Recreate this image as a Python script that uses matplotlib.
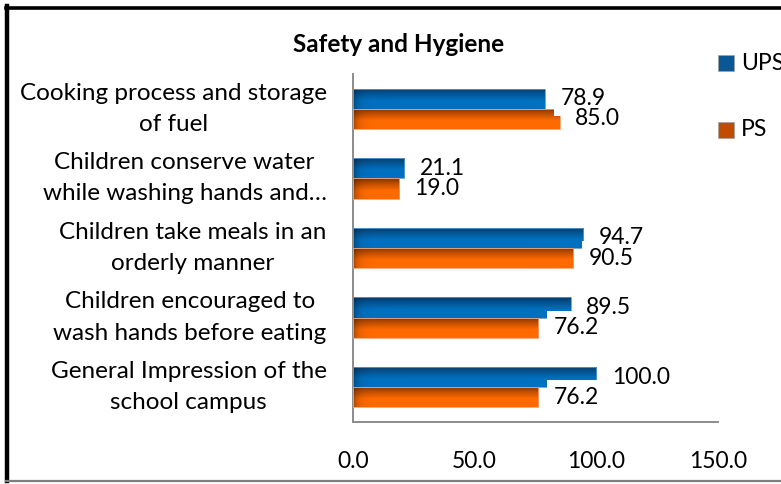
import numpy as np
import matplotlib
matplotlib.use('Agg')
import matplotlib.pyplot as plt
from matplotlib.patches import Rectangle
from matplotlib.lines import Line2D

plt.rcParams['font.family'] = ['Lato', 'DejaVu Sans']

categories = [
    'Cooking process and storage\nof fuel',
    'Children conserve water\nwhile washing hands and…',
    'Children take meals in an\norderly manner',
    'Children encouraged to\nwash hands before eating',
    'General Impression of the\nschool campus',
]
ups = [78.9, 21.1, 94.7, 89.5, 100.0]
ps = [85.0, 19.0, 90.5, 76.2, 76.2]
series_names = ['UPS', 'PS']
xticks = [0, 50, 100, 150]

W, H = 781, 484
fig = plt.figure(figsize=(W / 100, H / 100), dpi=100)
ax = fig.add_axes([353 / W, 1 - 422 / H, (718 - 353) / W, (422 - 74) / H])

bar_h = 0.29
y = np.arange(len(categories))


def shaded(dark, light, n=64):
    # vertical shade: dark along the top edge, lighter below, darker left end
    dark = np.array(matplotlib.colors.to_rgb(dark))
    light = np.array(matplotlib.colors.to_rgb(light))
    t = np.linspace(0, 1, n)
    tv = np.clip(t / 0.6, 0, 1) ** 0.8
    col = dark[None, :] * (1 - tv[:, None]) + light[None, :] * tv[:, None]
    xs = np.linspace(0, 150, 600)
    edge = 1 - 0.35 * np.exp(-xs / 2.0)
    img = col[:, None, :] * edge[None, :, None]
    return np.clip(img, 0, 1)


styles = [
    (ups, -bar_h / 2, '#0b355c', '#0070c0', '#5b9bd5'),
    (ps, bar_h / 2, '#7a2e00', '#ff6a00', '#f4a070'),
]
for vals, off, dark, light, edge in styles:
    img = shaded(dark, light)
    bars = ax.barh(y + off, vals, height=bar_h, color='none',
                   edgecolor=edge, linewidth=0.6, zorder=3)
    for b in bars:
        y0 = b.get_y()
        y1 = y0 + b.get_height()
        im = ax.imshow(img, extent=[0, 150, y1, y0], aspect='auto',
                       origin='upper', zorder=2, interpolation='bilinear')
        im.set_clip_path(b)

# value labels: white boxes first, then all texts on top of them
for vals, off in [(ups, -bar_h / 2), (ps, bar_h / 2)]:
    for yi, v in zip(y, vals):
        kw = dict(va='center', ha='left', fontsize=16.5)
        ax.text(v + 6.3, yi + off, f'{v:.1f}', color='none', zorder=4,
                bbox=dict(boxstyle='square,pad=0.28', fc='white', ec='none'), **kw)
        ax.text(v + 6.3, yi + off, f'{v:.1f}', color='black', zorder=5, **kw)

ax.set_xlim(0, 150)
ax.set_ylim(len(categories) - 0.5, -0.5)
ax.set_xticks(xticks)
ax.set_xticklabels([f'{t:.1f}' for t in xticks])
ax.set_yticks(y)
ax.set_yticklabels(categories, multialignment='center', linespacing=1.6)
for lab in ax.get_yticklabels():
    lab.set_verticalalignment('center')
ax.tick_params(axis='x', length=0, pad=21, labelsize=16.5)
ax.tick_params(axis='y', length=0, pad=19, labelsize=17.5)
for s in ['top', 'right']:
    ax.spines[s].set_visible(False)
for s in ['left', 'bottom']:
    ax.spines[s].set_color('#8c8c8c')
    ax.spines[s].set_linewidth(1.4)

fig.text(399 / W, 1 - 45 / H, 'Safety and Hygiene', ha='center', va='center',
         fontsize=17.5, fontweight='bold')

# legend drawn by hand at the right edge
for name, yc, col in [(series_names[0], 63, '#0a5796'), (series_names[1], 130, '#c24d00')]:
    fig.patches.append(Rectangle((718 / W, 1 - (yc + 8) / H), 16 / W, 16 / H,
                                 transform=fig.transFigure, fc=col,
                                 ec='#a0a0a0', lw=0.5))
    fig.text(741 / W, 1 - yc / H, name, ha='left', va='center', fontsize=16.5)

# outer frame
fig.lines.append(Line2D([7.5 / W, 7.5 / W], [1 - 481 / H, 1 - 6 / H],
                        transform=fig.transFigure, color='black', lw=3.2))
fig.lines.append(Line2D([6 / W, 1.0], [1 - 7.5 / H, 1 - 7.5 / H],
                        transform=fig.transFigure, color='black', lw=2.6))
fig.lines.append(Line2D([6 / W, 1.0], [1 - 480.5 / H, 1 - 480.5 / H],
                        transform=fig.transFigure, color='#7f7f7f', lw=1.6))

fig.savefig('out.png', dpi=100)
